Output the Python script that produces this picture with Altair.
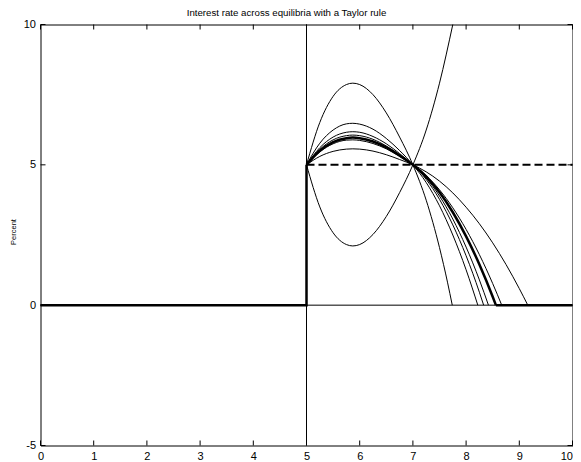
import altair as alt
import pandas as pd

# ---- data ----
x_ticks = list(range(0, 11))
y_ticks = [-5, 0, 5, 10]

arc_x = [5.0, 5.25, 5.5, 5.75, 5.87, 6.0, 6.25, 6.5, 6.75, 7.0]

curve1_x = arc_x + [7.25, 7.5, 7.65, 7.74]
curve1_y = [5, 6.51, 7.44, 7.86, 7.91, 7.86, 7.50, 6.85, 5.99, 5, 3.74, 2.05, 0.82, 0]
curve2_x = arc_x + [7.25, 7.5, 7.75, 8.0, 8.22]
curve2_y = [5, 5.77, 6.24, 6.46, 6.48, 6.45, 6.27, 5.94, 5.51, 5, 4.37, 3.54, 2.50, 1.26, 0]
curve3_x = arc_x + [7.25, 7.5, 7.75, 8.0, 8.25, 8.33]
curve3_y = [5, 5.61, 5.99, 6.16, 6.18, 6.16, 6.01, 5.75, 5.40, 5, 4.48, 3.77, 2.86, 1.76, 0.46, 0]
curve4_x = arc_x + [7.25, 7.5, 7.75, 8.0, 8.25, 8.42]
curve4_y = [5, 5.55, 5.89, 6.04, 6.06, 6.04, 5.91, 5.67, 5.36, 5, 4.53, 3.89, 3.07, 2.07, 0.90, 0]
curve6_x = arc_x + [7.25, 7.5, 7.75, 8.0, 8.25, 8.5, 8.67]
curve6_y = [5, 5.46, 5.75, 5.88, 5.89, 5.87, 5.76, 5.57, 5.30, 5, 4.62, 4.11, 3.47, 2.70, 1.80, 0.77, 0]
curve7_x = arc_x + [7.25, 7.5, 7.75, 8.0, 8.25, 8.5, 8.75, 9.0, 9.16]
curve7_y = [5, 5.30, 5.48, 5.56, 5.57, 5.56, 5.49, 5.36, 5.19, 5, 4.75, 4.42, 4.00, 3.49, 2.90, 2.22, 1.45, 0.59, 0]
curve8_x = arc_x + [7.25, 7.5, 7.75]
curve8_y = [5, 3.50, 2.58, 2.16, 2.11, 2.16, 2.52, 3.16, 4.01, 5, 6.24, 7.91, 10.0]

thick_curve_x = arc_x + [7.25, 7.5, 7.75, 8.0, 8.25, 8.5, 8.56]
thick_curve_y = [5, 5.50, 5.81, 5.95, 5.97, 5.95, 5.83, 5.62, 5.33, 5, 4.58, 4.02, 3.31, 2.45, 1.45, 0.30, 0]
thick_step_x = [0, 5, 5]
thick_step_y = [0, 0, 5]
thick_tail_x = [8.56, 10]
thick_tail_y = [0, 0]

steady_x = [5, 10]
steady_y = [5, 5]

# ---- tables ----
thin_rows = []
for name, xs_, ys_ in [("c1", curve1_x, curve1_y), ("c2", curve2_x, curve2_y),
                       ("c3", curve3_x, curve3_y), ("c4", curve4_x, curve4_y),
                       ("c6", curve6_x, curve6_y), ("c7", curve7_x, curve7_y),
                       ("c8", curve8_x, curve8_y)]:
    for i, (a, b) in enumerate(zip(xs_, ys_)):
        thin_rows.append({"curve": name, "x": a, "y": b, "o": i})
thin_df = pd.DataFrame(thin_rows)

thick_curve_df = pd.DataFrame({"x": thick_curve_x, "y": thick_curve_y, "o": range(len(thick_curve_x))})
seg_rows = []
for name, xs_, ys_ in [("step", thick_step_x, thick_step_y), ("tail", thick_tail_x, thick_tail_y)]:
    for i, (a, b) in enumerate(zip(xs_, ys_)):
        seg_rows.append({"seg": name, "x": a, "y": b, "o": i})
seg_df = pd.DataFrame(seg_rows)
steady_df = pd.DataFrame({"x": steady_x, "y": steady_y})

W, H = 532, 421
FONT = "Liberation Sans"

xs = alt.Scale(domain=[0, 10], nice=False, zero=False)
ys = alt.Scale(domain=[-5, 10], nice=False, zero=False)
xax = alt.Axis(values=x_ticks, ticks=False, domain=False, grid=False, labelPadding=5,
               labelFontSize=11, labelFont=FONT, labelColor="black", title=None,
               labelExpr="'' + datum.value",
               labelAlign={"condition": {"test": "datum.value == 10", "value": "right"},
                           "value": "center"})
yax = alt.Axis(values=y_ticks, ticks=False, domain=False, grid=False, labelPadding=5,
               labelFontSize=11, labelFont=FONT, labelColor="black", title="Percent",
               titleFont=FONT, titleFontSize=7.5, titleFontWeight="normal", titleColor="black",
               titlePadding=6, titleY=207, labelExpr="'' + datum.value")

base_x = alt.X("x:Q", scale=xs, axis=xax)
base_y = alt.Y("y:Q", scale=ys, axis=yax)

vline = alt.Chart(pd.DataFrame({"x": [5], "y": [-5], "y2": [10]})).mark_rule(
    color="black", strokeWidth=1).encode(x=base_x, y=base_y, y2="y2:Q")
hline = alt.Chart(pd.DataFrame({"x": [0], "x2": [10], "y": [0]})).mark_rule(
    color="black", strokeWidth=1).encode(x=base_x, x2="x2:Q", y=base_y)

thin = alt.Chart(thin_df).mark_line(color="black", strokeWidth=1, interpolate="monotone").encode(
    x=base_x, y=base_y, detail="curve:N", order="o:Q")

steady = alt.Chart(steady_df).mark_line(color="black", strokeWidth=2, strokeDash=[8, 4]).encode(
    x=base_x, y=base_y)

thick_curve = alt.Chart(thick_curve_df).mark_line(
    color="black", strokeWidth=2.5, interpolate="monotone").encode(x=base_x, y=base_y, order="o:Q")
thick_seg = alt.Chart(seg_df).mark_line(color="black", strokeWidth=2.5, strokeJoin="miter").encode(
    x=base_x, y=base_y, detail="seg:N", order="o:Q")

xt = pd.DataFrame({"x": x_ticks})
yt = pd.DataFrame({"y": y_ticks})
tick_top = alt.Chart(xt).mark_rule(color="black").encode(x=base_x, y=alt.value(0), y2=alt.value(5))
tick_bot = alt.Chart(xt).mark_rule(color="black").encode(x=base_x, y=alt.value(H), y2=alt.value(H - 5))
tick_left = alt.Chart(yt).mark_rule(color="black").encode(y=base_y, x=alt.value(0), x2=alt.value(5))
tick_right = alt.Chart(yt).mark_rule(color="black").encode(y=base_y, x=alt.value(W), x2=alt.value(W - 5))

chart = alt.layer(
    vline, hline, thin, steady, thick_curve, thick_seg,
    tick_top, tick_bot, tick_left, tick_right
).properties(
    width=W, height=H,
    background="white",
    title=alt.TitleParams("Interest rate across equilibria with a Taylor rule",
                          font=FONT, fontSize=9.7, fontWeight="normal", color="black",
                          anchor="middle", dx=-20, offset=1),
    autosize=alt.AutoSizeParams(type="none"),
    padding={"left": 32.5, "top": 16.5, "right": 0.5, "bottom": 16},
).configure_view(stroke="black", strokeWidth=1)

chart.save("out.html", embed_options={"renderer": "svg", "actions": False})
